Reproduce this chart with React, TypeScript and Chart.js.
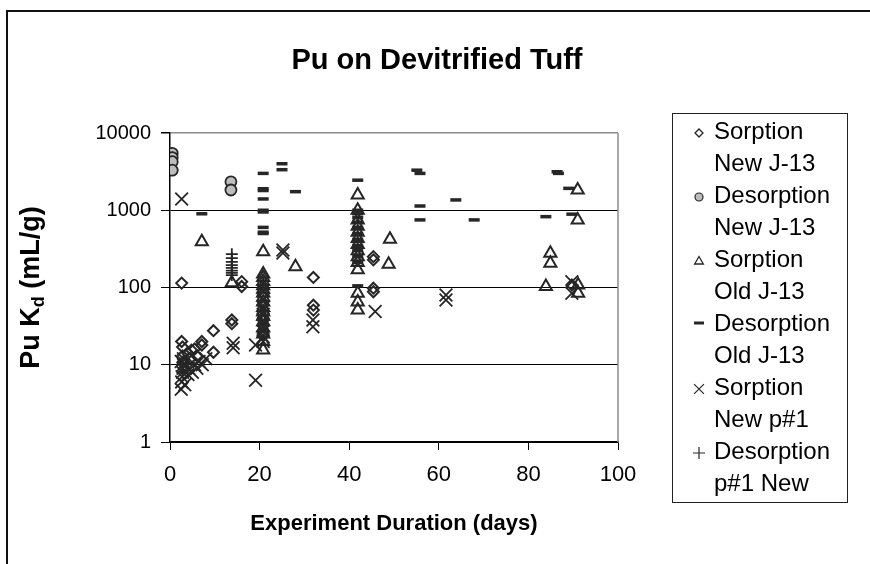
import React, { useEffect, useRef } from 'react';
import { Chart, registerables } from 'chart.js';

Chart.register(...registerables);

const FONT = "'Liberation Sans', Arial, sans-serif";

const chartTitle = 'Pu on Devitrified Tuff';
const xAxisTitle = 'Experiment Duration (days)';
const yTitleMain = 'Pu K';
const yTitleSub = 'd';
const yTitleTail = ' (mL/g)';
const yTickValues = [1, 10, 100, 1000, 10000];
const xTickValues = [0, 20, 40, 60, 80, 100];

const legendLines = [
  ['Sorption', 'New J-13'],
  ['Desorption', 'New J-13'],
  ['Sorption', 'Old J-13'],
  ['Desorption', 'Old J-13'],
  ['Sorption', 'New p#1'],
  ['Desorption', 'p#1 New'],
];

// Sorption New J-13 (open diamonds)
const sorpNewJ13Days = [2.6, 16, 16, 32, 32, 32, 45.4, 45.4, 45.4, 45.4, 89.7, 13.8, 13.8, 9.7, 9.7, 7.1, 7.1, 4.8, 2.6, 2.8, 2.8, 3.0, 3.2, 4.0, 4.5, 5.5, 6.0, 20.8, 20.8, 20.8];
const sorpNewJ13Kd = [114, 119, 103, 135, 59, 51, 251, 228, 98, 88, 108, 38, 34, 27.6, 14.5, 20, 18, 15.5, 20, 17, 13, 11, 9, 14, 12, 16, 13, 25, 40, 60];

// Desorption New J-13 (grey circles)
const desNewJ13Days = [0.5, 0.5, 0.5, 0.5, 13.6, 13.6];
const desNewJ13Kd = [5460, 4800, 4250, 3300, 2330, 1830];

// Sorption Old J-13 (open triangles)
const sorpOldJ13Days = [7.1, 13.8, 20.8, 20.8, 20.8, 20.8, 20.8, 20.8, 20.8, 20.8, 20.8, 20.8, 20.8, 20.8, 20.8, 20.8, 20.8, 20.8, 20.8, 28, 41.9, 41.9, 41.9, 41.9, 41.9, 41.9, 41.9, 41.9, 41.9, 41.9, 41.9, 41.9, 41.9, 41.9, 49.1, 48.8, 84.9, 84.9, 83.9, 91, 91, 91.1, 91.1];
const sorpOldJ13Kd = [392, 115, 290, 150, 135, 120, 105, 95, 85, 75, 65, 55, 48, 42, 36, 30, 25, 20, 15.5, 186, 1575, 1000, 750, 620, 520, 430, 360, 300, 250, 210, 170, 84, 65, 51, 420, 200, 277, 206, 103, 1830, 750, 108, 84];

// Desorption Old J-13 (dashes)
const desOldJ13Days = [7.1, 20.8, 20.8, 20.8, 20.8, 20.8, 20.8, 20.8, 20.8, 20.8, 25, 25, 28, 41.9, 41.9, 41.9, 41.9, 41.9, 41.9, 41.9, 41.9, 41.9, 41.9, 41.9, 41.9, 41.9, 55.1, 55.8, 55.8, 55.8, 63.8, 67.9, 86.4, 86.7, 83.9, 89, 89.7];
const desOldJ13Kd = [900, 3000, 1900, 1800, 1400, 1000, 950, 600, 520, 500, 4000, 3350, 1740, 2450, 1000, 900, 800, 700, 600, 500, 420, 350, 300, 250, 210, 105, 3300, 3000, 1135, 750, 1360, 750, 3150, 3000, 826, 1920, 890];

// Sorption New p#1 (x marks)
const sorpNewP1Days = [2.6, 25.2, 25.2, 14.1, 14.1, 19.1, 19.1, 31.9, 31.9, 45.8, 61.6, 61.6, 89.7, 89.7, 20.8, 20.8, 20.8, 20.8, 20.8, 20.8, 20.8, 20.8, 20.8, 2.5, 2.6, 2.7, 2.8, 2.9, 3.0, 2.5, 3.0, 3.3, 4.0, 4.2, 5.0, 5.5, 6.0, 6.5, 7.2, 8.0];
const sorpNewP1Kd = [1400, 305, 280, 19, 16.6, 18, 6.3, 38, 31, 49, 80, 69, 119, 84, 90, 70, 55, 45, 38, 32, 27, 23, 20, 4.8, 6, 7, 8, 9, 10, 11, 12, 5.5, 7.5, 9, 8, 10, 9, 11, 10, 12];

// Desorption p#1 New (plus marks)
const desP1NewDays = [13.8, 13.8, 13.8, 13.8, 13.8, 13.8, 13.8, 13.8, 2.8, 2.8];
const desP1NewKd = [270, 240, 215, 195, 180, 165, 155, 145, 10, 8];

const pts = (xs: number[], ys: number[]) => xs.map((x, i) => ({ x, y: ys[i] }));

const INK = '#262626';

const seriesStyles = [
  { pointStyle: 'rectRot', radius: 5.5, bw: 2, fill: 'rgba(0,0,0,0)', lr: 4, lbw: 1.3 },
  { pointStyle: 'circle', radius: 5.5, bw: 1.8, fill: '#bdbdbd', lr: 4, lbw: 1.2 },
  { pointStyle: 'triangle', radius: 7, bw: 2, fill: 'rgba(0,0,0,0)', lr: 5, lbw: 1.3 },
  { pointStyle: 'line', radius: 5.5, bw: 3.5, fill: INK, lr: 5, lbw: 3 },
  { pointStyle: 'crossRot', radius: 9, bw: 1.8, fill: INK, lr: 7, lbw: 1.2 },
  { pointStyle: 'cross', radius: 6, bw: 1.8, fill: INK, lr: 6, lbw: 1.2 },
];

const seriesData = [
  pts(sorpNewJ13Days, sorpNewJ13Kd),
  pts(desNewJ13Days, desNewJ13Kd),
  pts(sorpOldJ13Days, sorpOldJ13Kd),
  pts(desOldJ13Days, desOldJ13Kd),
  pts(sorpNewP1Days, sorpNewP1Kd),
  pts(desP1NewDays, desP1NewKd),
];

function drawLegendMarker(ctx: CanvasRenderingContext2D, style: string, x: number, y: number, r: number, fill: string, lw: number) {
  ctx.save();
  ctx.strokeStyle = INK;
  ctx.fillStyle = fill;
  ctx.lineWidth = lw;
  ctx.beginPath();
  if (style === 'rectRot') {
    ctx.moveTo(x - r, y);
    ctx.lineTo(x, y - r);
    ctx.lineTo(x + r, y);
    ctx.lineTo(x, y + r);
    ctx.closePath();
    ctx.stroke();
  } else if (style === 'circle') {
    ctx.arc(x, y, r, 0, Math.PI * 2);
    ctx.fill();
    ctx.stroke();
  } else if (style === 'triangle') {
    const h = r * 1.5;
    ctx.moveTo(x, y - h * 0.6);
    ctx.lineTo(x + r * 0.866, y + h * 0.4);
    ctx.lineTo(x - r * 0.866, y + h * 0.4);
    ctx.closePath();
    ctx.stroke();
  } else if (style === 'line') {
    ctx.moveTo(x - r, y);
    ctx.lineTo(x + r, y);
    ctx.stroke();
  } else if (style === 'crossRot') {
    const d = r * 0.707;
    ctx.moveTo(x - d, y - d);
    ctx.lineTo(x + d, y + d);
    ctx.moveTo(x + d, y - d);
    ctx.lineTo(x - d, y + d);
    ctx.stroke();
  } else if (style === 'cross') {
    ctx.moveTo(x - r, y);
    ctx.lineTo(x + r, y);
    ctx.moveTo(x, y - r);
    ctx.lineTo(x, y + r);
    ctx.stroke();
  }
  ctx.restore();
}

const decorPlugin = {
  id: 'decor',
  beforeDraw(chart: any) {
    const ctx = chart.ctx;
    ctx.save();
    ctx.fillStyle = '#ffffff';
    ctx.fillRect(0, 0, chart.width, chart.height);
    ctx.restore();
  },
  afterDraw(chart: any) {
    const ctx = chart.ctx;
    const a = chart.chartArea;
    ctx.save();
    // plot area right border (grey)
    ctx.strokeStyle = '#8c8c8c';
    ctx.lineWidth = 1.5;
    ctx.beginPath();
    ctx.moveTo(a.right, a.top);
    ctx.lineTo(a.right, a.bottom);
    ctx.stroke();

    // outer chart border
    ctx.strokeStyle = '#111';
    ctx.lineWidth = 2;
    ctx.beginPath();
    ctx.moveTo(7, 600);
    ctx.lineTo(7, 11);
    ctx.lineTo(900, 11);
    ctx.stroke();

    // title
    ctx.fillStyle = '#000';
    ctx.textAlign = 'center';
    ctx.textBaseline = 'middle';
    ctx.font = `bold 29px ${FONT}`;
    ctx.fillText(chartTitle, 437, 61);

    // x axis title
    ctx.font = `bold 22px ${FONT}`;
    ctx.fillText(xAxisTitle, (a.left + a.right) / 2, 524);

    // y axis title with subscript
    ctx.save();
    ctx.translate(30, (a.top + a.bottom) / 2);
    ctx.rotate(-Math.PI / 2);
    ctx.textAlign = 'left';
    ctx.textBaseline = 'alphabetic';
    const big = `bold 27px ${FONT}`;
    const small = `bold 18px ${FONT}`;
    ctx.font = big;
    const w1 = ctx.measureText(yTitleMain).width;
    const w3 = ctx.measureText(yTitleTail).width;
    ctx.font = small;
    const w2 = ctx.measureText(yTitleSub).width;
    const total = w1 + w2 + w3;
    const x0 = -total / 2;
    const base = 9;
    ctx.font = big;
    ctx.fillText(yTitleMain, x0, base);
    ctx.font = small;
    ctx.fillText(yTitleSub, x0 + w1, base + 5);
    ctx.font = big;
    ctx.fillText(yTitleTail, x0 + w1 + w2, base);
    ctx.restore();

    // legend
    ctx.strokeStyle = '#222';
    ctx.lineWidth = 1;
    ctx.strokeRect(672.5, 113.5, 175, 389);
    ctx.fillStyle = '#000';
    ctx.textAlign = 'left';
    ctx.textBaseline = 'alphabetic';
    ctx.font = `24px ${FONT}`;
    legendLines.forEach((lines, k) => {
      const y1 = 139 + 64 * k;
      ctx.fillStyle = '#000';
      ctx.fillText(lines[0], 714, y1);
      ctx.fillText(lines[1], 714, y1 + 32);
      const s = seriesStyles[k];
      const my = s.pointStyle === 'line' ? y1 - 8 : y1 - 6;
      drawLegendMarker(ctx, s.pointStyle, 699, my, s.lr, s.fill, s.lbw);
    });
    ctx.restore();
  },
};

export default function App() {
  const ref = useRef<HTMLCanvasElement | null>(null);
  useEffect(() => {
    if (!ref.current) return;
    const datasets = seriesData.map((d, i) => {
      const s = seriesStyles[i];
      return {
        label: legendLines[i].join(' '),
        data: d,
        showLine: false,
        pointStyle: s.pointStyle,
        pointRadius: s.radius,
        pointBorderWidth: s.bw,
        pointBackgroundColor: s.fill,
        pointBorderColor: INK,
      };
    });
    const chart = new Chart(ref.current, {
      type: 'scatter',
      data: { datasets } as any,
      options: {
        animation: false,
        responsive: false,
        events: [],
        layout: { padding: { left: 60, top: 133, right: 252, bottom: 72 } },
        plugins: {
          legend: { display: false },
          title: { display: false },
          tooltip: { enabled: false },
        },
        scales: {
          x: {
            type: 'linear',
            min: 0,
            max: 100,
            afterBuildTicks: (scale: any) => {
              scale.ticks = xTickValues.map((v) => ({ value: v }));
            },
            afterFit: (scale: any) => {
              scale.height = 50;
            },
            ticks: {
              color: '#000',
              font: { family: FONT, size: 22 },
              padding: 12,
              maxRotation: 0,
              callback: (v: any) => String(v),
            },
            grid: {
              drawOnChartArea: false,
              drawTicks: true,
              tickLength: 8,
              color: '#000',
              tickColor: '#000',
            },
            border: { display: true, color: '#000', width: 1.5 },
          },
          y: {
            type: 'logarithmic',
            min: 1,
            max: 10000,
            afterBuildTicks: (scale: any) => {
              scale.ticks = yTickValues.map((v) => ({ value: v }));
            },
            afterFit: (scale: any) => {
              scale.width = 110;
            },
            ticks: {
              color: '#000',
              font: { family: FONT, size: 20 },
              padding: 10,
              callback: (v: any) => String(v),
            },
            grid: {
              drawTicks: true,
              tickLength: 9,
              color: (c: any) => (c.tick && c.tick.value === 10000 ? '#8c8c8c' : '#000'),
              tickColor: '#000',
              lineWidth: (c: any) => (c.tick && c.tick.value === 10000 ? 1.5 : 1),
            },
            border: { display: true, color: '#000', width: 1.5 },
          },
        },
      } as any,
      plugins: [decorPlugin],
    });
    return () => chart.destroy();
  }, []);
  return (
    <div style={{ position: 'fixed', left: 0, top: 0, width: 870, height: 564 }}>
      <canvas ref={ref} width={870} height={564} style={{ width: 870, height: 564, display: 'block' }} />
    </div>
  );
}
